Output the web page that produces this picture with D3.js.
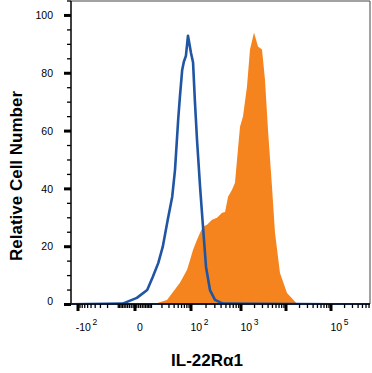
<!DOCTYPE html>
<html>
<head>
<meta charset="utf-8">
<script src="https://cdn.jsdelivr.net/npm/d3@7"></script>
<style>
html,body{margin:0;padding:0;background:#fff;}
svg{display:block;font-family:"Liberation Sans",Arial,sans-serif;}
</style>
</head>
<body>
<svg id="chart" width="372" height="373"></svg>
<script>
// ---- data (fluorescence intensity, relative cell number) ----
const isotypeX = [-300, -7, 1, 7, 11, 16, 21, 28, 36, 42, 50, 55, 62, 68, 76, 85, 100, 110, 120, 132, 152, 174, 200, 240, 302, 437, 900000];
const isotypeY = [0, 0.3, 2.3, 5, 9.5, 14.4, 20, 29.3, 37.3, 46.6, 64, 72, 81, 84, 86, 93, 87, 83.7, 70, 57, 40.7, 26.9, 13, 5, 1.6, 0.3, 0];

const stainedX = [-300, 4.4, 12.9, 26.8, 55, 81, 95, 110, 132, 152, 174, 209, 264, 332, 418, 480, 551, 662, 758, 832, 955, 1107, 1359, 1585, 1945, 2387, 2930, 3410, 3980, 4885, 5695, 7355, 10530, 17560, 900000];
const stainedY = [0, 0, 0.3, 1.6, 7.5, 12, 15.4, 18.9, 22.4, 24.8, 26.9, 27.6, 29.3, 30, 31.7, 32, 37.3, 39.7, 42.1, 50, 61.5, 65, 75.4, 88.2, 94.1, 89.3, 88.2, 77.8, 60.5, 40.7, 24.8, 10.9, 4, 0.3, 0];

// axis ticks
const xMajorTicks = [-100, 0, 100, 1000, 10000, 100000];
const xLabelTicks = [
  {v: -100, base: "-10", exp: "2"},
  {v: 0, base: "0", exp: ""},
  {v: 100, base: "10", exp: "2"},
  {v: 1000, base: "10", exp: "3"},
  {v: 100000, base: "10", exp: "5"}
];
const yMajorTicks = [0, 20, 40, 60, 80, 100];
const yMinorStep = 5;
const xTitle = "IL-22R\u03b11";
const yTitle = "Relative Cell Number";

// ---- layout ----
const mLeft = 71, mRight = 370, mTop = 1, mBottom = 304;
const svg = d3.select("#chart");

// logicle-like transform (arcsinh) + polylinear scale
const T = v => Math.asinh(v / 10);
const xAnchors = [-100, 0, 100, 1000, 10000, 100000];
const xAnchorPx = [78, 135, 191, 241, 286, 331];
const xs = d3.scaleLinear().domain(xAnchors.map(T)).range(xAnchorPx);
const x = v => xs(T(v));
const y = d3.scaleLinear().domain([0, 105]).range([mBottom + 0.5, mTop]);

// clip
svg.append("clipPath").attr("id", "clip")
  .append("rect").attr("x", mLeft).attr("y", mTop).attr("width", mRight - mLeft).attr("height", mBottom - mTop);

const plot = svg.append("g").attr("clip-path", "url(#clip)");

const stained = stainedX.map((v, i) => [v, stainedY[i]]);
const isotype = isotypeX.map((v, i) => [v, isotypeY[i]]);

plot.append("path")
  .attr("d", d3.area().x(d => x(d[0])).y0(y(0)).y1(d => y(d[1]))(stained))
  .attr("fill", "#F5841F");

plot.append("path")
  .attr("d", d3.line().x(d => x(d[0])).y(d => y(d[1]))(isotype))
  .attr("fill", "none")
  .attr("stroke", "#1F55A3")
  .attr("stroke-width", 2.6)
  .attr("stroke-linejoin", "round");

// frame
svg.append("path")
  .attr("d", `M${mLeft},${mTop}H${mRight}V${mBottom}`)
  .attr("fill", "none").attr("stroke", "#444").attr("stroke-width", 1);
svg.append("line").attr("x1", mLeft).attr("x2", mLeft).attr("y1", mTop).attr("y2", mBottom + 1)
  .attr("stroke", "#000").attr("stroke-width", 1.5);
svg.append("line").attr("x1", mLeft - 1).attr("x2", mRight).attr("y1", mBottom).attr("y2", mBottom)
  .attr("stroke", "#0d1f40").attr("stroke-width", 1.8);

// y ticks
const yMinor = d3.range(0, 105 + 0.01, yMinorStep).filter(v => !yMajorTicks.includes(v));
svg.selectAll(".ymin").data(yMinor).enter().append("line")
  .attr("x1", mLeft - 4).attr("x2", mLeft).attr("y1", d => y(d)).attr("y2", d => y(d))
  .attr("stroke", "#000").attr("stroke-width", 1.3);
svg.selectAll(".ymaj").data(yMajorTicks).enter().append("line")
  .attr("x1", mLeft - 7).attr("x2", mLeft).attr("y1", d => y(d)).attr("y2", d => y(d))
  .attr("stroke", "#000").attr("stroke-width", 3);
svg.selectAll(".ylab").data(yMajorTicks).enter().append("text")
  .attr("x", mLeft - 18).attr("y", d => y(d) - (d === 0 ? 3 : 0)).attr("dy", "0.35em")
  .attr("text-anchor", "end").attr("font-size", 10.5).attr("fill", "#000")
  .text(d => d);

// x ticks
const xMinor = [];
for (let i = 1; i <= 9; i++) { xMinor.push(i, -i, i * 10, -i * 10); }
xMinor.push(-200, -300);
[100, 1000, 10000, 100000].forEach(b => { for (let k = 2; k <= 9; k++) xMinor.push(b * k); });
const xMinorVis = xMinor.filter(v => !xMajorTicks.includes(v) && x(v) >= mLeft && x(v) <= mRight);
svg.selectAll(".xmin").data(xMinorVis).enter().append("line")
  .attr("x1", d => x(d)).attr("x2", d => x(d)).attr("y1", mBottom).attr("y2", mBottom + 4)
  .attr("stroke", "#000").attr("stroke-width", 1.3);
svg.selectAll(".xmaj").data(xMajorTicks).enter().append("line")
  .attr("x1", d => x(d)).attr("x2", d => x(d)).attr("y1", mBottom).attr("y2", mBottom + 7)
  .attr("stroke", "#000").attr("stroke-width", 3);

const xl = svg.selectAll(".xlab").data(xLabelTicks).enter().append("text")
  .attr("x", d => x(d.v) + (d.exp ? 8.5 : 5)).attr("y", 331)
  .attr("text-anchor", "middle").attr("font-size", 10.5).attr("fill", "#000");
xl.append("tspan").text(d => d.base);
xl.append("tspan").attr("dx", 1.5).attr("dy", -6).attr("font-size", 8.5).text(d => d.exp);

// titles
svg.append("text").attr("x", 207).attr("y", 366).attr("text-anchor", "middle")
  .attr("font-size", 17).attr("font-weight", "bold").attr("fill", "#000").text(xTitle);
svg.append("text").attr("transform", "translate(22,176) rotate(-90)").attr("text-anchor", "middle")
  .attr("font-size", 17).attr("font-weight", "bold").attr("fill", "#000").text(yTitle);
</script>
</body>
</html>
